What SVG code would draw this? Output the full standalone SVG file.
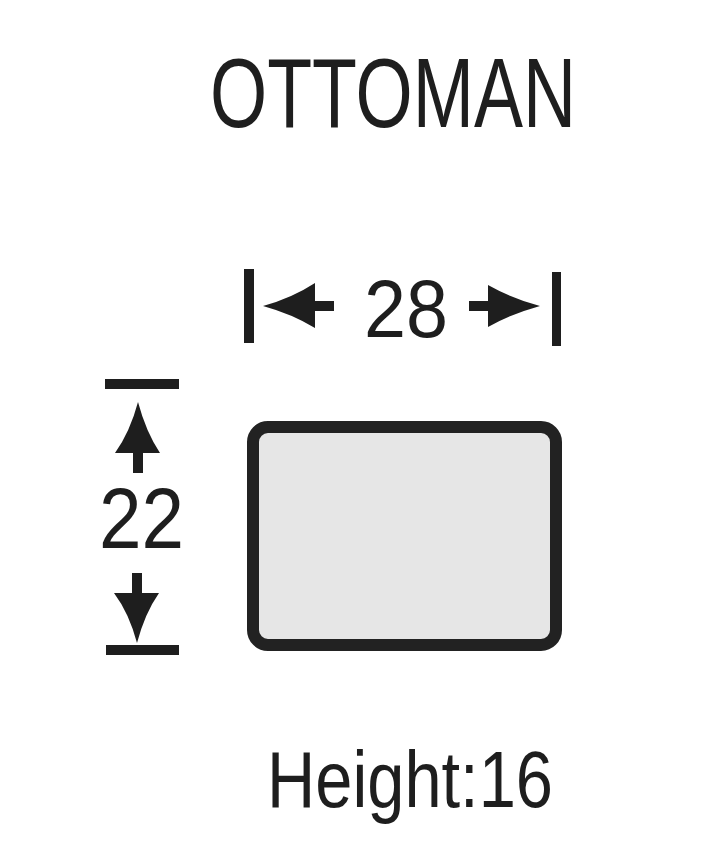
<svg xmlns="http://www.w3.org/2000/svg" width="722" height="864" viewBox="0 0 722 864">
<style>
.t{font-family:"Liberation Sans",Arial,sans-serif;fill:#1e1e1e}
.ink{fill:#1e1e1e}
</style>
<rect width="722" height="864" fill="#ffffff"/>
<g id="title">
<text class="t" x="210" y="127" font-size="98" textLength="366" lengthAdjust="spacingAndGlyphs">OTTOMAN</text>
</g>
<g id="ottoman">
<rect x="253" y="427" width="303" height="218" rx="15" ry="15" fill="#e6e6e6" stroke="#222222" stroke-width="12"/>
</g>
<g id="width-dimension">
<rect class="ink" x="244" y="269" width="10" height="74"/>
<rect class="ink" x="552" y="272" width="9" height="74"/>
<path class="ink" d="M263,306 Q292,298 315,283 L315,301 L334,301 L334,311 L315,311 L315,328 Q292,314 263,306 Z"/>
<path class="ink" d="M540,306 Q511,298 488,285 L488,301 L469,301 L469,311 L488,311 L488,327 Q511,314 540,306 Z"/>
<text class="t" x="364" y="337" font-size="82" textLength="84" lengthAdjust="spacingAndGlyphs">28</text>
</g>
<g id="depth-dimension">
<rect class="ink" x="105" y="379" width="74" height="10"/>
<rect class="ink" x="106" y="645" width="73" height="10"/>
<path class="ink" d="M138,402 Q146,432 160,453 L143,453 L143,473 L133,473 L133,453 L115,453 Q130,432 138,402 Z"/>
<path class="ink" d="M137,643 Q145,613 159,593 L142,593 L142,573 L132,573 L132,593 L114,593 Q129,613 137,643 Z"/>
<text class="t" x="99" y="548" font-size="85" textLength="85" lengthAdjust="spacingAndGlyphs">22</text>
</g>
<g id="height-label">
<text class="t" x="267" y="807" font-size="80" textLength="286" lengthAdjust="spacingAndGlyphs">Height:16</text>
</g>
</svg>
